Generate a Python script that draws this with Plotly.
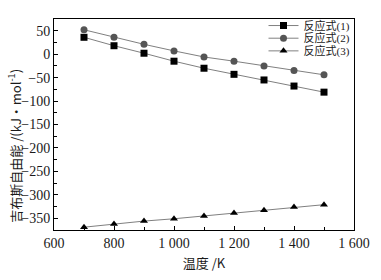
import plotly.graph_objects as go

temps = [700, 800, 900, 1000, 1100, 1200, 1300, 1400, 1500]
reaction1 = [36, 18, 2, -15, -30, -43, -55, -68, -81]
reaction2 = [52, 36, 21, 7, -6, -15, -25, -35, -44]
reaction3 = [-369, -362, -356, -351, -345, -339, -333, -326, -321]
names = ["反应式(1)", "反应式(2)", "反应式(3)"]
x_ticks = [600, 800, 1000, 1200, 1400, 1600]
x_tick_text = ["600", "800", "1 000", "1 200", "1 400", "1 600"]
y_ticks = [50, 0, -50, -100, -150, -200, -250, -300, -350]

font_fam = "Liberation Serif, Noto Sans CJK SC, serif"
cjk_fam = "Noto Sans CJK SC, Liberation Serif, serif"

fig = go.Figure()
styles = [("square", "#000000"), ("circle", "#555555"), ("triangle-up", "#000000")]
legend_ids = ["legend", "legend2", "legend3"]
for name, ys, (sym, col), lg in zip(names, [reaction1, reaction2, reaction3], styles, legend_ids):
    fig.add_trace(go.Scatter(
        x=temps, y=ys, name=name, mode="lines+markers",
        line=dict(color="#808080", width=1),
        marker=dict(symbol=sym, color=col, size=7),
        legend=lg,
    ))

axis_common = dict(
    showgrid=False, zeroline=False, showline=True, linecolor="#000", linewidth=1,
    mirror=True, ticks="inside", ticklen=4, tickcolor="#000",
    tickfont=dict(family=font_fam, size=14, color="#1a1a1a"),
)

leg_y = [0.969, 0.909, 0.849]
legend_common = dict(x=1.005, xanchor="right", yanchor="middle",
                     bgcolor="rgba(0,0,0,0)", font=dict(size=11, family=font_fam, color="#1a1a1a"),
                     itemwidth=30, borderwidth=0)
fig.update_layout(
    width=381, height=280,
    margin=dict(l=54, r=20, t=11, b=43),
    paper_bgcolor="white", plot_bgcolor="white",
    font=dict(family=font_fam, color="#1a1a1a"),
    showlegend=True,
    legend=dict(y=leg_y[0], **legend_common),
    legend2=dict(y=leg_y[1], **legend_common),
    legend3=dict(y=leg_y[2], **legend_common),
    xaxis=dict(range=[600, 1600], tickvals=x_ticks, ticktext=x_tick_text,
               minor=dict(ticks="inside", ticklen=3, dtick=100, tickcolor="#000"),
               title=dict(text="温度 /K", font=dict(size=13, family=cjk_fam), standoff=9),
               **axis_common),
    yaxis=dict(range=[-375, 75], tickvals=y_ticks,
               ticktext=[str(v).replace("-", "−") for v in y_ticks],
               minor=dict(ticks="inside", ticklen=3, dtick=25, tickcolor="#000"),
               **axis_common),
    annotations=[dict(
        text="吉布斯自由能 /(kJ·mol<sup>-1</sup>)", textangle=-90,
        xref="paper", yref="paper", x=-0.133, y=0.40,
        xanchor="center", yanchor="middle", showarrow=False,
        font=dict(size=13, family=cjk_fam, color="#1a1a1a"),
    )],
)
fig.write_html("out.html", config={"displayModeBar": False},
               post_script="document.body.style.margin='0';")
